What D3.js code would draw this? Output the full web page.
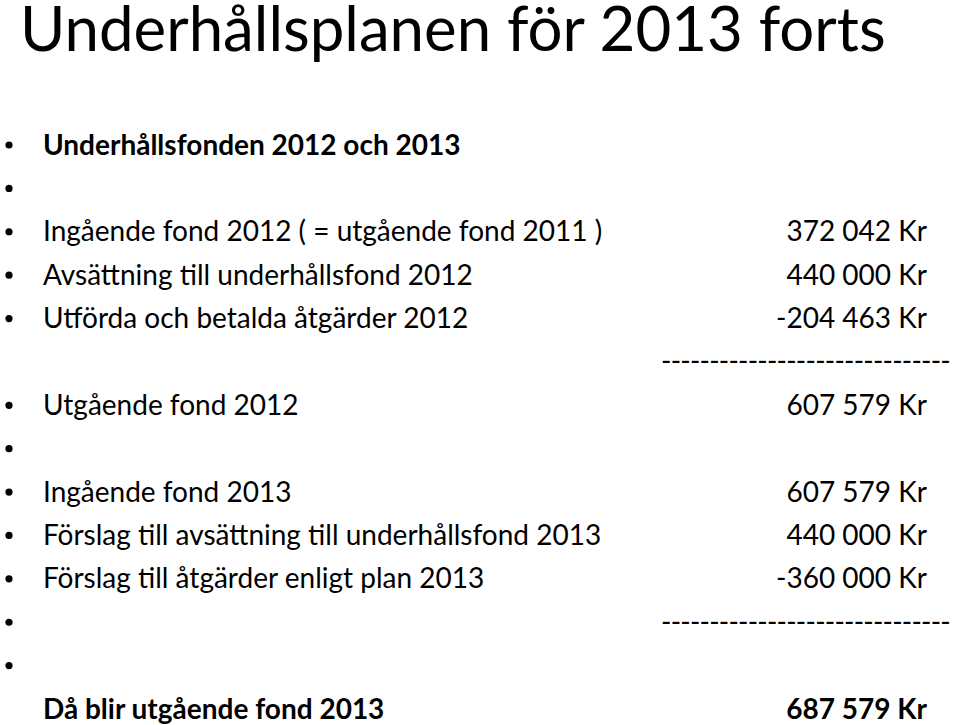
<!DOCTYPE html>
<html>
<head>
<meta charset="utf-8">
<script src="https://cdn.jsdelivr.net/npm/d3@7"></script>
<style>
  body { margin: 0; background: #fff; }
  svg { display: block; }
  text { font-family: Lato, "Open Sans", sans-serif; fill: #000; }
</style>
</head>
<body>
<svg id="slide"></svg>
<script>
let width = 960
let height = 725

// slide content
let title = "Underhållsplanen för 2013 forts"
let labels = [
    "Underhållsfonden 2012 och 2013",
    "",
    "Ingående fond 2012 ( = utgående fond 2011 )",
    "Avsättning till underhållsfond 2012",
    "Utförda och betalda åtgärder 2012",
    "",
    "Utgående fond 2012",
    "",
    "Ingående fond 2013",
    "Förslag till avsättning till underhållsfond 2013",
    "Förslag till åtgärder enligt plan 2013",
    "",
    "",
    "Då blir utgående fond 2013"
]
let amounts = [
    "", "", "372 042 Kr", "440 000 Kr", "-204 463 Kr", "---", "607 579 Kr",
    "", "607 579 Kr", "440 000 Kr", "-360 000 Kr", "---", "", "687 579 Kr"
]
let bullets = [1, 1, 1, 1, 1, 0, 1, 1, 1, 1, 1, 1, 1, 0]
let boldRows = [0, 13]

let svg = d3.select("#slide")
    .attr("width", width)
    .attr("height", height)

// title, sized so it spans the slide like the original
let t = svg.append("text")
    .attr("x", 20)
    .attr("y", 51)
    .attr("font-size", 64)
    .text(title)
let tw = t.node().getComputedTextLength()
t.attr("font-size", 64 * 866 / tw)

let rows = d3.range(labels.length)
let y = d3.scaleLinear()
    .domain([0, rows.length - 1])
    .range([145, 709])

let g = svg.append("g")

g.selectAll("circle")
    .data(rows.filter(i => bullets[i]))
    .enter()
    .append("circle")
    .attr("cx", 9)
    .attr("cy", d => y(d))
    .attr("r", 3.6)
    .attr("fill", "#000")

let bodySize = 28

g.selectAll("text.label")
    .data(rows.filter(i => labels[i] != ""))
    .enter()
    .append("text")
    .attr("class", "label")
    .attr("x", 43)
    .attr("y", d => y(d) + 9.5)
    .attr("font-size", bodySize)
    .attr("font-weight", d => boldRows.includes(d) ? "bold" : "normal")
    .text(d => labels[d])

g.selectAll("text.amount")
    .data(rows.filter(i => amounts[i] != "" && amounts[i] != "---"))
    .enter()
    .append("text")
    .attr("class", "amount")
    .attr("x", 927)
    .attr("y", d => y(d) + 9.5)
    .attr("text-anchor", "end")
    .attr("font-size", bodySize)
    .attr("font-weight", d => boldRows.includes(d) ? "bold" : "normal")
    .text(d => amounts[d])

// dashed separators are typed hyphens in the original
let dashes = g.selectAll("text.dash")
    .data(rows.filter(i => amounts[i] == "---"))
    .enter()
    .append("text")
    .attr("class", "dash")
    .attr("x", 661)
    .attr("y", d => y(d) + 9.5)
    .attr("font-size", bodySize)
    .text("-".repeat(30))

// tighten the hyphens so the run ends near x = 950
let dw = dashes.node().getComputedTextLength()
dashes.attr("letter-spacing", (289 - dw) / 30)
</script>
</body>
</html>
